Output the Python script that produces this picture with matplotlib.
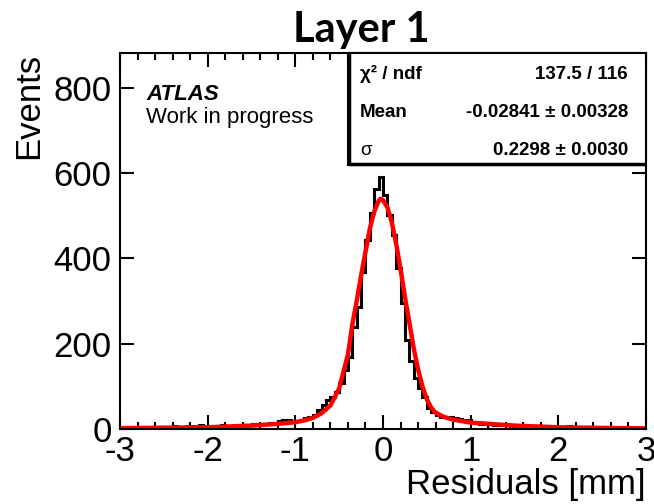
import numpy as np
import matplotlib
matplotlib.use("Agg")
import matplotlib.pyplot as plt
from matplotlib.ticker import MultipleLocator

# histogram of residuals, 120 bins from -3 to 3 mm
x_lo, x_hi, n_bins = -3.0, 3.0, 120
counts = [
    3, 4, 2, 5, 3, 4, 3, 5, 4, 3,
    5, 4, 6, 4, 5, 7, 6, 8, 9, 7,
    8, 6, 7, 9, 8, 7, 9, 8, 10, 9,
    11, 10, 12, 11, 13, 15, 18, 22, 21, 17,
    18, 22, 25, 29, 33, 45, 56, 68, 75,
    87, 107, 138, 170, 240, 287, 368, 443, 507, 563, 592,
    550, 502, 455, 378, 295, 209, 160, 120, 96, 76,
    50, 40, 33, 29, 28, 27, 26, 24, 22, 21,
    14, 13, 12, 13, 11, 10, 10, 9, 9, 8,
    8, 7, 7, 6, 7, 6, 5, 6, 5, 5,
    5, 4, 6, 5, 4, 4, 5, 3, 4, 4,
    3, 4, 3, 3, 2, 3, 2, 3, 2, 2,
]

# fit curve
fit_x = [-3.0, -2.5, -2.0, -1.5, -1.2, -1.0, -0.9, -0.8, -0.7, -0.6,
         -0.5, -0.45, -0.4, -0.35, -0.3, -0.25, -0.2, -0.15, -0.1, -0.05,
         -0.03, 0.0, 0.05, 0.1, 0.15, 0.2, 0.25, 0.3, 0.35, 0.4,
         0.45, 0.5, 0.55, 0.6, 0.7, 0.8, 1.0, 1.5, 2.0, 2.5, 3.0]
fit_y = [2, 3, 4, 8, 12, 16, 20, 26, 37, 55,
         95, 135, 175, 245, 300, 360, 415, 470, 510, 535,
         540, 537, 520, 485, 435, 375, 310, 250, 190, 140,
         100, 70, 50, 38, 28, 22, 15, 8, 4, 2.5, 1.5]

stats_names = ["χ² / ndf", "Mean", "σ"]
stats_values = ["137.5 / 116", "-0.02841 ± 0.00328", "0.2298 ± 0.0030"]

plt.rcParams['font.family'] = ['Liberation Sans', 'DejaVu Sans']

fig = plt.figure(figsize=(6.54, 5.04), dpi=100)
ax = fig.add_axes([120 / 654, 1 - 429 / 504, 526 / 654, 376 / 504])

edges = np.linspace(x_lo, x_hi, n_bins + 1)
ax.stairs(counts, edges, color='black', lw=2.2)
ax.plot(fit_x, fit_y, color='red', lw=3.2, solid_joinstyle='round')

ax.set_xlim(x_lo, x_hi)
ax.set_ylim(0, 882)
ax.xaxis.set_major_locator(MultipleLocator(1))
ax.xaxis.set_minor_locator(MultipleLocator(0.2))
ax.yaxis.set_major_locator(MultipleLocator(200))
ax.tick_params(which='both', direction='in', top=True, right=True, width=1.5,
               labelsize=25)
ax.tick_params(which='major', length=10)
ax.tick_params(which='minor', length=5)
ax.tick_params(axis='x', pad=4)
ax.tick_params(axis='y', pad=6)
for sp in ax.spines.values():
    sp.set_linewidth(1.5)

ax.set_xticks([-3, -2, -1, 0, 1, 2, 3], ['-3', '-2', '-1', '0', '1', '2', '3'])
ax.set_xlabel("Residuals [mm]", fontsize=25, loc='right', labelpad=0)
ax.set_ylabel("Events", fontsize=25, loc='top', labelpad=6)

fig.text(361 / 654, 1 - 42 / 504, "Layer 1", fontsize=30, fontweight='bold',
         family=['Lato', 'DejaVu Sans'], ha='center', va='baseline')

ax.text(146 / 654, 1 - 100 / 504, "ATLAS", transform=fig.transFigure,
        fontsize=16, fontweight='bold', fontstyle='italic', va='baseline')
ax.text(146 / 654, 1 - 123 / 504, "Work in progress", transform=fig.transFigure,
        fontsize=16, va='baseline')

# stats box
box = plt.Rectangle((348 / 654, 1 - 165 / 504), 298 / 654, 112 / 504,
                    transform=fig.transFigure, facecolor='white',
                    edgecolor='black', lw=1.5, zorder=5)
fig.add_artist(box)
fig.add_artist(plt.Line2D([349 / 654, 349 / 654, 646 / 654],
                          [1 - 53 / 504, 1 - 164 / 504, 1 - 164 / 504],
                          transform=fig.transFigure, color='black', lw=2.5,
                          solid_capstyle='butt', zorder=6))
row_y = [79, 117, 155]
for name, val, yy in zip(stats_names, stats_values, row_y):
    fig.text(360 / 654, 1 - yy / 504, name, fontsize=13.5,
             fontweight='normal' if name == "σ" else 'bold',
             va='baseline', zorder=7)
    fig.text(628 / 654, 1 - yy / 504, val, fontsize=13.5, fontweight='bold',
             ha='right', va='baseline', zorder=7)

fig.savefig("out.png", dpi=100)
